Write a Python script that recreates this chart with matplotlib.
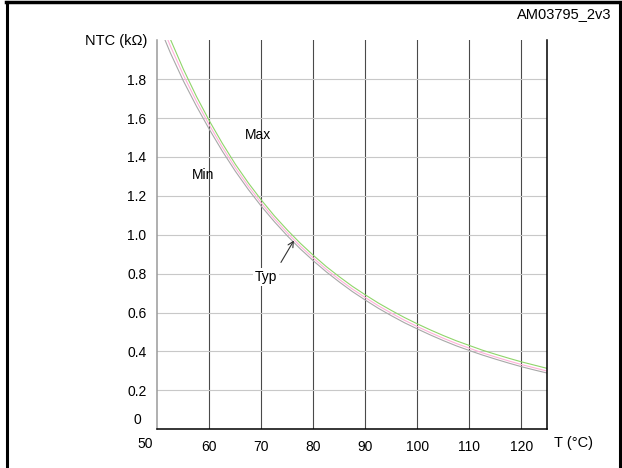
"""
NTC resistance vs temperature (min / typ / max)
"""

import matplotlib.pyplot as plt
from matplotlib.lines import Line2D

# temperature in degrees C
temps = [50, 52.5, 55, 57.5, 60, 62.5, 65, 67.5, 70, 72.5, 75, 77.5, 80, 82.5, 85, 87.5,
         90, 92.5, 95, 97.5, 100, 102.5, 105, 107.5, 110, 112.5, 115, 117.5, 120, 122.5, 125]

# resistance in kOhm
ntcMax = [2.174, 2.004, 1.850, 1.711, 1.585, 1.469, 1.362, 1.266, 1.178, 1.097, 1.024, 0.956,
          0.894, 0.836, 0.784, 0.735, 0.691, 0.649, 0.611, 0.575, 0.542, 0.511, 0.482, 0.455,
          0.431, 0.407, 0.386, 0.366, 0.347, 0.330, 0.313]
ntcTyp = [2.134, 1.969, 1.820, 1.686, 1.563, 1.449, 1.344, 1.249, 1.162, 1.082, 1.009, 0.941,
          0.880, 0.822, 0.770, 0.721, 0.677, 0.635, 0.597, 0.561, 0.528, 0.497, 0.468, 0.441,
          0.417, 0.393, 0.372, 0.352, 0.333, 0.316, 0.299]
ntcMin = [2.094, 1.934, 1.790, 1.661, 1.541, 1.429, 1.326, 1.232, 1.146, 1.067, 0.994, 0.927,
          0.866, 0.809, 0.757, 0.708, 0.664, 0.622, 0.584, 0.548, 0.516, 0.485, 0.456, 0.429,
          0.405, 0.382, 0.361, 0.341, 0.322, 0.305, 0.289]

xTicks = [60, 70, 80, 90, 100, 110, 120]
xTickLabels = ['60', '70', '80', '90', '100', '110', '120']
yTicks = [0.2, 0.4, 0.6, 0.8, 1.0, 1.2, 1.4, 1.6, 1.8]
yTickLabels = ['0.2', '0.4', '0.6', '0.8', '1.0', '1.2', '1.4', '1.6', '1.8']

plt.rcParams['font.family'] = ['Liberation Sans', 'DejaVu Sans']
plt.rcParams['font.size'] = 10

fig = plt.figure(figsize=(6.22, 4.68), dpi=100)
ax = fig.add_axes([0.2532, 0.0827, 0.6267, 0.8312])

# grid: dark vertical lines, light horizontal lines
for x in xTicks:
    ax.axvline(x, color='#4a4a4a', lw=0.8, zorder=1)
for y in yTicks:
    ax.axhline(y, color='#c8c8c8', lw=0.8, zorder=1)

# the three curves
ax.plot(temps, ntcMin, color='#a8a8a8', lw=0.8, zorder=2)
ax.plot(temps, ntcTyp, color='#ffb0d8', lw=0.8, zorder=2)
ax.plot(temps, ntcMax, color='#8fd46a', lw=0.8, zorder=2)

ax.set_xlim(50, 125)
ax.set_ylim(0, 2.0)

ax.set_xticks(xTicks)
ax.set_xticklabels(xTickLabels)
ax.set_yticks(yTicks)
ax.set_yticklabels(yTickLabels)
ax.tick_params(axis='x', length=0, pad=7.5)
ax.tick_params(axis='y', length=0, pad=8)

ax.spines['top'].set_visible(False)
ax.spines['left'].set_color('#9a9a9a')
ax.spines['bottom'].set_color('black')
ax.spines['right'].set_color('black')
for s in ['left', 'bottom', 'right']:
    ax.spines[s].set_linewidth(1.1)

# the 0 and 50 labels sit off the corner
ax.text(46.1, 0.047, '0', ha='center', va='center', clip_on=False)
ax.text(47.55, -0.075, '50', ha='center', va='center', clip_on=False)

# curve labels
ax.text(69.3, 1.515, 'Max', ha='center', va='center', zorder=3)
ax.text(58.75, 1.309, 'Min', ha='center', va='center', zorder=3)
ax.text(70.9, 0.781, 'Typ', ha='center', va='center', zorder=3,
        bbox=dict(facecolor='white', edgecolor='none', pad=1.5))
ax.annotate('', xy=(76.25, 0.971), xytext=(73.75, 0.858),
            arrowprops=dict(arrowstyle='->', color='#333333', lw=0.8, shrinkA=0, shrinkB=0))

# axis titles and figure id
fig.text(147 / 622, 1 - 41 / 468, 'NTC (k\u03a9)', ha='right', va='center', fontsize=10.5)
fig.text(554 / 622, 1 - 443 / 468, 'T (\u00b0C)', ha='left', va='center', fontsize=10.5)
fig.text(611 / 622, 1 - 14 / 468, 'AM03795_2v3', ha='right', va='center', fontsize=10.5)

# outer frame (top, left, right)
fig.add_artist(Line2D([7.3 / 622, 7.3 / 622], [0, 1 - 2 / 468], transform=fig.transFigure,
                      color='black', lw=2.2))
fig.add_artist(Line2D([619.5 / 622, 619.5 / 622], [0, 1 - 2 / 468], transform=fig.transFigure,
                      color='black', lw=2.2))
fig.add_artist(Line2D([6 / 622, 621 / 622], [1 - 2 / 468, 1 - 2 / 468], transform=fig.transFigure,
                      color='black', lw=2.5))

fig.savefig('out.png', dpi=100)
plt.close()
